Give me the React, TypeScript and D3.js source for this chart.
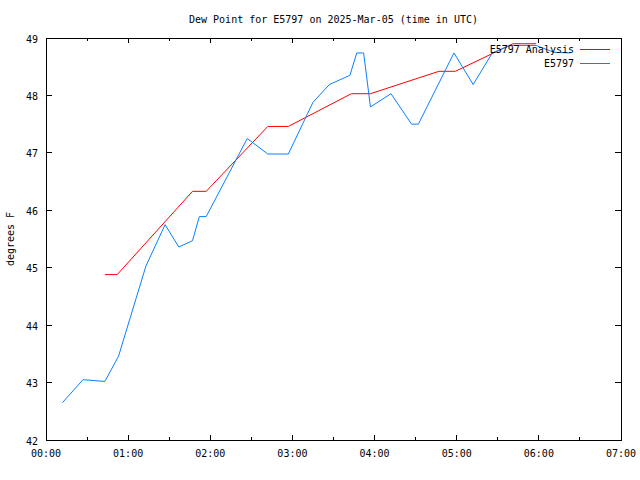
import React from "react";
import * as d3 from "d3";

// Minutes after 00:00 UTC, 2025-03-05
const obsMinutes = [12, 27, 43, 53, 73, 87, 97, 107, 112, 117, 147, 162, 177, 195, 207, 222, 227, 232, 237, 252, 267, 272, 298, 312, 326, 339, 358, 371, 383];
const obsValues = [42.65, 43.05, 43.02, 43.46, 45.03, 45.75, 45.36, 45.47, 45.89, 45.89, 47.25, 46.98, 46.98, 47.88, 48.19, 48.35, 48.74, 48.74, 47.8, 48.03, 47.5, 47.5, 48.74, 48.19, 48.74, 48.87, 48.87, 48.75, 48.74];

const anaMinutes = [43, 52, 107, 117, 162, 177, 223, 237, 287, 299, 341, 358];
const anaValues = [44.88, 44.88, 46.33, 46.33, 47.46, 47.46, 48.03, 48.03, 48.42, 48.42, 48.9, 48.9];

const yTicks = [42, 43, 44, 45, 46, 47, 48, 49];
const title = "Dew Point for E5797 on 2025-Mar-05 (time in UTC)";
const yLabel = "degrees F";
const seriesNames = ["E5797 Analysis", "E5797"];
const seriesColors = ["#ff0000", "#0a80ff"];

const W = 640, H = 480;
const M = { left: 46, right: 621, top: 38, bottom: 440 };
const FONT = "'DejaVu Sans Mono', 'Liberation Mono', monospace";

const base = Date.UTC(2025, 2, 5, 0, 0, 0);
const toDate = (m: number) => new Date(base + m * 60000);

export default function App() {
  const x = d3.scaleUtc().domain([toDate(0), toDate(420)]).range([M.left, M.right]);
  const y = d3.scaleLinear().domain([42, 49]).range([M.bottom, M.top]);

  const line = d3
    .line<[number, number]>()
    .x((d) => x(toDate(d[0])))
    .y((d) => y(d[1]));

  const obs = obsMinutes.map((m, i) => [m, obsValues[i]] as [number, number]);
  const ana = anaMinutes.map((m, i) => [m, anaValues[i]] as [number, number]);

  const xTicks = d3.utcMinute.every(30)!.range(toDate(0), toDate(421));
  const fmt = d3.utcFormat("%H:%M");

  return (
    <svg
      width={W}
      height={H}
      style={{ position: "absolute", left: 0, top: 0, display: "block", background: "#fff" }}
      fontFamily={FONT}
      fontSize={10}
    >
      <rect x={0} y={0} width={W} height={H} fill="#fff" />
      <text x={(M.left + M.right) / 2} y={20} textAnchor="middle" dominantBaseline="middle" fill="#000">
        {title}
      </text>
      <text
        transform={`translate(11,${(M.top + M.bottom) / 2}) rotate(-90)`}
        textAnchor="middle"
        dominantBaseline="middle"
        fill="#000"
      >
        {yLabel}
      </text>
      <g shapeRendering="crispEdges" stroke="#000" strokeWidth={1}>
        {yTicks.map((t) => (
          <g key={"y" + t}>
            <line x1={M.left} x2={M.left + 6} y1={y(t)} y2={y(t)} />
            <line x1={M.right} x2={M.right - 6} y1={y(t)} y2={y(t)} />
          </g>
        ))}
        {xTicks.map((t, i) => {
          const major = t.getUTCMinutes() === 0;
          const len = major ? 5 : 3;
          return (
            <g key={"x" + i}>
              <line x1={x(t)} x2={x(t)} y1={M.bottom} y2={M.bottom - len} />
              <line x1={x(t)} x2={x(t)} y1={M.top} y2={M.top + len} />
            </g>
          );
        })}
      </g>
      {yTicks.map((t) => (
        <text key={"yl" + t} x={38} y={y(t) + 1.5} textAnchor="end" dominantBaseline="middle" fill="#000">
          {t}
        </text>
      ))}
      {xTicks
        .filter((t) => t.getUTCMinutes() === 0)
        .map((t, i) => (
          <text key={"xl" + i} x={x(t)} y={454} textAnchor="middle" dominantBaseline="middle" fill="#000">
            {fmt(t)}
          </text>
        ))}
      <g fill="none" strokeWidth={1}>
        <path d={line(ana) || ""} stroke={seriesColors[0]} />
        <path d={line(obs) || ""} stroke={seriesColors[1]} />
      </g>
      {seriesNames.map((n, i) => (
        <g key={n}>
          <text x={574} y={50 + i * 14} textAnchor="end" dominantBaseline="middle" fill="#000">
            {n}
          </text>
          <line
            x1={580}
            x2={610}
            y1={49 + i * 14}
            y2={49 + i * 14}
            stroke={seriesColors[i]}
            strokeWidth={1}
            shapeRendering="crispEdges"
          />
        </g>
      ))}
      <rect
        x={M.left}
        y={M.top}
        width={M.right - M.left}
        height={M.bottom - M.top}
        fill="none"
        stroke="#000"
        strokeWidth={1}
        shapeRendering="crispEdges"
      />
    </svg>
  );
}
